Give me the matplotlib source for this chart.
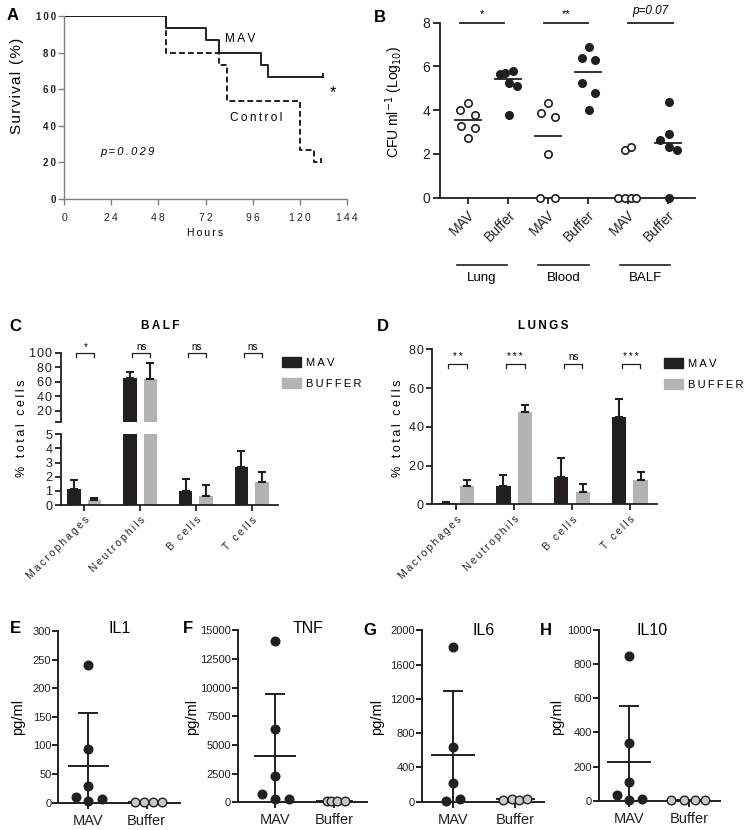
import numpy as np
import matplotlib
matplotlib.use("Agg")
import matplotlib.pyplot as plt
from matplotlib.patches import Patch

plt.rcParams['font.family'] = ['Liberation Sans', 'DejaVu Sans']

W, H = 744, 830
DARK = '#231f20'
GREY = '#b3b3b3'
LIGHT = '#c8c8c8'

# ---- data ----
# A: survival (Kaplan-Meier steps)
hours_mav = [0, 52, 72, 79, 100, 104, 132]
surv_mav = [100, 93.3, 86.7, 80, 73.3, 66.7, 66.7]
hours_ctrl = [0, 52, 79, 83, 120, 127, 131]
surv_ctrl = [100, 80, 73.3, 53.3, 26.7, 20, 20]

# B: CFU per ml (log10)
cfu_groups = ['Lung', 'Blood', 'BALF']
cfu_ticks = ['MAV', 'Buffer', 'MAV', 'Buffer', 'MAV', 'Buffer']
lung_mav_cfu = [4.31, 4.01, 3.78, 3.29, 3.20, 2.71]
lung_buf_cfu = [5.65, 5.71, 5.78, 5.23, 5.11, 3.77]
blood_mav_cfu = [4.31, 3.86, 3.67, 2.00, 0, 0]
blood_buf_cfu = [6.90, 6.37, 6.30, 5.23, 4.80, 4.01]
balf_mav_cfu = [2.18, 2.30, 0, 0, 0, 0]
balf_buf_cfu = [4.36, 2.90, 2.64, 2.33, 2.18, 0]
cfu_sig = ['*', '**', 'p=0.07']

# C / D: cell percentages
cell_types = ['Macrophages', 'Neutrophils', 'B cells', 'T cells']
balf_mav = [1.11, 64.6, 0.97, 2.67]
balf_mav_err = [0.66, 9.2, 0.89, 1.17]
balf_buf = [0.35, 63.2, 0.64, 1.63]
balf_buf_err = [0.17, 22.1, 0.75, 0.70]
balf_sig = ['*', 'ns', 'ns', 'ns']
lung_mav = [0.86, 9.6, 14.3, 45.3]
lung_mav_err = [0.54, 5.7, 9.5, 9.1]
lung_buf = [9.6, 47.5, 6.5, 12.6]
lung_buf_err = [3.0, 3.8, 4.0, 4.1]
lung_sig = ['**', '***', 'ns', '***']

# E-H: cytokines pg/ml
il1_mav = [240.5, 93.2, 29.7, 10.5, 3.5, 5.8]
il1_buf = [0.5, 0.8, 0.6, 0.4]
tnf_mav = [14099, 6395, 2297, 756, 262, 320]
tnf_buf = [120, 150, 100, 130]
il6_mav = [1809, 642, 214, 12, 31]
il6_buf = [25, 30, 20, 28]
il10_mav = [850, 336, 111, 33, 4, 12]
il10_buf = [3, 5, 4, 2]


def sp(s, gap='\u2009'):
    return gap.join(s)


fig = plt.figure(figsize=(W / 100, H / 100), dpi=100)


def axes_px(l, t, r, b):
    return fig.add_axes([l / W, 1 - b / H, (r - l) / W, (b - t) / H])


def text_px(x, y, s, **kw):
    kw.setdefault('ha', 'center')
    kw.setdefault('va', 'center')
    fig.text(x / W, 1 - y / H, s, **kw)


def clean(ax, color=DARK, lw=1.3):
    for s in ['top', 'right']:
        ax.spines[s].set_visible(False)
    for s in ['left', 'bottom']:
        ax.spines[s].set_color(color)
        ax.spines[s].set_linewidth(lw)
    ax.tick_params(colors=color, width=lw, labelcolor='#222222')


# panel letters
for lab, x, y in [('A', 13, 15), ('B', 380, 17), ('C', 15, 326), ('D', 383, 326),
                  ('E', 15, 628), ('F', 188, 628), ('G', 370, 630), ('H', 546, 630)]:
    text_px(x, y, lab, fontsize=12, fontweight='bold')

# ---------------- A ----------------
axA = axes_px(64, 16, 347, 199)
clean(axA, color='#808080', lw=1.0)
axA.step(hours_ctrl, surv_ctrl, where='post', color=DARK, lw=1.4, ls=(0, (3, 1.6)))
axA.plot([hours_ctrl[-1]] * 2, [surv_ctrl[-1], surv_ctrl[-1] + 1.8], color=DARK, lw=1.4)
axA.step(hours_mav, surv_mav, where='post', color=DARK, lw=1.4)
axA.plot([hours_mav[-1]] * 2, [surv_mav[-1], surv_mav[-1] + 1.8], color=DARK, lw=1.4)
axA.set_xlim(0, 144)
axA.set_ylim(0, 100)
axA.set_xticks(range(0, 145, 24))
axA.set_xticklabels([sp(str(v)) for v in range(0, 145, 24)], fontsize=7.5)
axA.set_yticks(range(0, 101, 20))
axA.set_yticklabels([sp(str(v)) for v in range(0, 101, 20)], fontsize=7, fontweight='bold')
axA.tick_params(axis='y', length=4, pad=2)
axA.tick_params(axis='x', length=4, pad=6)
axA.text(89.5, 87.5, sp('MAV'), fontsize=8.5, ha='center', va='center')
axA.text(98, 44, sp('Control'), fontsize=8.5, ha='center', va='center')
axA.text(137, 58, '*', fontsize=12, ha='center', va='center')
axA.text(32.5, 25.7, sp('p=0.029'), fontsize=8, style='italic', ha='center', va='center')
text_px(17, 86, sp('Survival (%)', '\u200a'), fontsize=11, rotation=90)
text_px(205, 233, sp('Hours'), fontsize=7.5)

# ---------------- B ----------------
axB = axes_px(440, 22.7, 695, 197.7)
clean(axB)
cfu_values = [lung_mav_cfu, lung_buf_cfu, blood_mav_cfu, blood_buf_cfu, balf_mav_cfu, balf_buf_cfu]
cfu_jitter = [[0, -0.19, 0.17, -0.17, 0.17, 0],
              [-0.21, -0.07, 0.125, 0.025, 0.23, 0.025],
              [0, -0.17, 0.17, 0, -0.19, 0.17],
              [0.025, -0.14, 0.19, -0.14, 0.19, 0.025],
              [-0.08, 0.07, -0.25, -0.08, 0.07, 0.21],
              [0.025, 0.025, -0.19, 0.025, 0.225, 0.025]]
xpos = np.arange(1, 7)
for i, vals in enumerate(cfu_values):
    filled = i % 2 == 1
    axB.plot(xpos[i] + np.array(cfu_jitter[i]), vals, 'o', ms=5.3, mew=1.2,
             mfc=DARK if filled else 'white', mec=DARK, clip_on=False, zorder=3)
    med = np.median(vals)
    axB.plot([xpos[i] - 0.33, xpos[i] + 0.33], [med, med], color=DARK, lw=1.3, zorder=2)
axB.set_xlim(0.3, 6.68)
axB.set_ylim(0, 8)
axB.set_yticks(range(0, 9, 2))
axB.tick_params(axis='y', labelsize=10, length=5, pad=2)
axB.set_xticks(xpos)
axB.set_xticklabels(cfu_ticks, rotation=45, ha='right', rotation_mode='anchor', fontsize=10)
axB.tick_params(axis='x', length=4, pad=3)
centers = [1.35, 3.45, 5.57]
for c, s in zip(centers, cfu_sig):
    axB.plot([c - 0.56, c + 0.56], [8, 8], color=DARK, lw=1.3, clip_on=False)
    if s.startswith('p'):
        axB.text(c, 8.25, s, fontsize=8.5, style='italic', ha='center', va='bottom')
    else:
        axB.text(c, 8.15, s, fontsize=8, ha='center', va='bottom')
trB = axB.get_xaxis_transform()
for c, g in zip([1.35, 3.39, 5.43], cfu_groups):
    axB.plot([c - 0.63, c + 0.63], [-0.385, -0.385], color=DARK, lw=1.2,
             transform=trB, clip_on=False)
    axB.text(c, -0.46, g, fontsize=9.5, ha='center', va='center', transform=trB)
text_px(394, 102, r'CFU ml$^{-1}$ (Log$_{10}$)', fontsize=10, rotation=90)


# ---------------- C / D helpers ----------------
def bars(ax, mav, mav_err, buf, buf_err, min_val=0):
    x = np.arange(len(cell_types))
    ax.bar(x - 0.185, mav, 0.245, color=DARK)
    ax.bar(x + 0.185, buf, 0.245, color=GREY)
    for off, vals, errs in [(-0.185, mav, mav_err), (0.185, buf, buf_err)]:
        keep = [i for i, v in enumerate(vals) if v >= min_val]
        ax.errorbar(x[keep] + off, np.array(vals)[keep],
                    yerr=[np.zeros(len(keep)), np.array(errs)[keep]], fmt='none',
                    ecolor=DARK, elinewidth=1.5, capsize=3.2, capthick=1.5)
    ax.set_xlim(-0.42, 3.47)


def brackets(ax, labels, y_top, y_drop, y_text):
    for i, s in enumerate(labels):
        x0, x1 = i - 0.14, i + 0.18
        ax.plot([x0, x0, x1, x1], [y_drop, y_top, y_top, y_drop], color=DARK,
                lw=0.9, clip_on=False)
        ax.text((x0 + x1) / 2, y_text, s if s == 'ns' else sp(s), fontsize=7,
                ha='center', va='bottom')


def cell_xticks(ax):
    ax.set_xticks(np.arange(len(cell_types)))
    ax.set_xticklabels([sp(c) for c in cell_types], rotation=45, ha='right',
                       rotation_mode='anchor', fontsize=7.5)
    ax.tick_params(axis='x', length=4, pad=3)


def legend(ax, x, y):
    ax.legend(handles=[Patch(color=DARK, label=sp('MAV')), Patch(color=GREY, label=sp('BUFFER'))],
              loc='upper left', bbox_to_anchor=(x / W, 1 - y / H),
              bbox_transform=fig.transFigure, frameon=False, fontsize=8,
              handlelength=1.75, handleheight=1.0, handletextpad=0.45,
              labelspacing=0.95, borderpad=0, borderaxespad=0)


# ---------------- C ----------------
axCu = axes_px(60.7, 352.7, 278, 422.3)
axCl = axes_px(60.7, 434.3, 278, 505)
clean(axCu)
clean(axCl)
bars(axCu, balf_mav, balf_mav_err, balf_buf, balf_buf_err, min_val=5)
bars(axCl, balf_mav, balf_mav_err, balf_buf, balf_buf_err)
axCu.spines['bottom'].set_visible(False)
axCu.set_ylim(4, 100)
axCu.set_yticks([4, 20, 40, 60, 80, 100])
axCu.set_yticklabels([''] + [sp(str(v), '\u200a') for v in range(20, 101, 20)], fontsize=9)
axCu.tick_params(axis='y', length=4, pad=2)
axCu.set_xticks([])
axCl.set_ylim(0, 5)
axCl.set_yticks(range(0, 6))
axCl.set_yticklabels([str(v) for v in range(0, 6)], fontsize=9)
axCl.tick_params(axis='y', length=4, pad=2)
cell_xticks(axCl)
brackets(axCu, balf_sig, 99.2, 94.5, 101.5)
legend(axCu, 282, 357)
text_px(160, 326, sp('BALF'), fontsize=8.5, fontweight='bold')
text_px(22, 428, sp('% total cells'), fontsize=9, rotation=90)

# ---------------- D ----------------
axD = axes_px(432, 349.3, 657, 504.3)
clean(axD)
bars(axD, lung_mav, lung_mav_err, lung_buf, lung_buf_err)
axD.set_ylim(0, 80)
axD.set_yticks(range(0, 81, 20))
axD.set_yticklabels([sp(str(v), '\u200a') for v in range(0, 81, 20)], fontsize=9)
axD.tick_params(axis='y', length=4, pad=2)
cell_xticks(axD)
brackets(axD, lung_sig, 72.3, 70.6, 73.3)
legend(axD, 664, 358)
text_px(543, 326, sp('LUNGS'), fontsize=8.5, fontweight='bold')
text_px(398, 428, sp('% total cells'), fontsize=9, rotation=90)


# ---------------- E-H ----------------
def cyto(box, mav, buf, ymax, step, mav_jit, buf_jit, xlim, title, tx, ty, ylx):
    ax = axes_px(*box)
    clean(ax, lw=1.4)
    ax.plot(np.array(mav_jit), mav, 'o', ms=6.2, mfc=DARK, mec=DARK, clip_on=False, zorder=3)
    ax.plot(1 + np.array(buf_jit), buf, 'o', ms=6.2, mfc=LIGHT, mec=DARK, mew=1.0,
            clip_on=False, zorder=3)
    for x, vals, hw in [(0, mav, 0.34), (1, buf, 0.3)]:
        m = np.mean(vals)
        sd = np.std(vals, ddof=1)
        ax.plot([x - hw, x + hw], [m, m], color=DARK, lw=1.4, zorder=2)
        ax.errorbar(x, m, yerr=sd, fmt='none', ecolor=DARK, elinewidth=1.4,
                    capsize=7, capthick=1.4, zorder=2)
    ax.set_xlim(*xlim)
    ax.set_ylim(0, ymax)
    ax.set_yticks(np.arange(0, ymax + 1, step))
    ax.tick_params(axis='y', labelsize=8, length=4, pad=1)
    ax.set_xticks([0, 1])
    ax.set_xticklabels(['MAV', 'Buffer'], fontsize=10.5)
    ax.tick_params(axis='x', length=4, pad=4)
    text_px(tx, ty, title, fontsize=11.5)
    text_px(ylx, 717, 'pg/ml', fontsize=10.5, rotation=90)
    return ax


cyto((58.3, 631, 180, 802.7), il1_mav, il1_buf, 300, 50,
     [0, 0, 0, -0.21, 0, 0.23], [-0.2, -0.05, 0.11, 0.26], (-0.515, 1.57), 'IL1', 120, 628, 18)
cyto((238, 630.3, 367, 802.3), tnf_mav, tnf_buf, 15000, 2500,
     [0, 0, 0, -0.22, 0, 0.23], [-0.13, -0.05, 0.04, 0.18], (-0.63, 1.55), 'TNF', 308, 628, 192)
cyto((422, 630.3, 543.7, 801.7), il6_mav, il6_buf, 2000, 400,
     [0, 0, 0, -0.12, 0.12], [-0.19, -0.05, 0.07, 0.19], (-0.5, 1.46), 'IL6', 484, 630, 377)
cyto((598.7, 630, 720.3, 800.7), il10_mav, il10_buf, 1000, 200,
     [0, 0, 0, -0.2, 0, 0.22], [-0.31, -0.09, 0.1, 0.26], (-0.5, 1.51), 'IL10', 652, 630, 557)

fig.savefig('out.png', dpi=100)
